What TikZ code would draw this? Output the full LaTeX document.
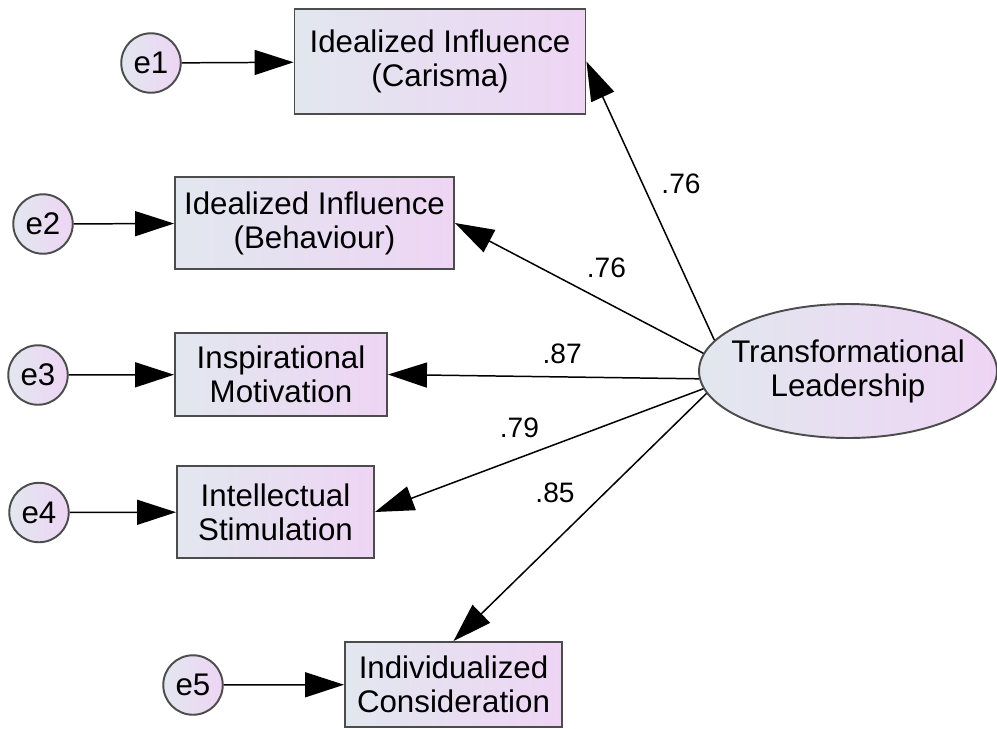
\documentclass[tikz,border=0pt]{standalone}
\usepackage{fontspec}
\setmainfont{Liberation Sans}
\usetikzlibrary{arrows.meta,shapes.geometric}

\definecolor{gradL}{HTML}{E2E7EF}
\definecolor{gradR}{HTML}{EED5F4}
\tikzset{
  grad/.style={left color=gradL, right color=gradR, draw=black!70, line width=1.1pt},
  obsbox/.style={grad, rectangle, align=center, inner sep=0pt},
  errnode/.style={grad, circle, minimum size=1.19cm, inner sep=0pt},
  latent/.style={grad, ellipse, align=center, minimum width=5.96cm, minimum height=2.68cm, inner xsep=-0.3cm, inner ysep=0pt},
  loading/.style={fill=none, draw=none, inner sep=0pt, font=\fontsize{16}{18}\selectfont}
}

\begin{document}
\begin{tikzpicture}[x=0.02cm,y=-0.02cm,->,>={Triangle[length=0.78cm,width=0.5cm]},line width=0.85pt,
  font=\fontsize{17.8}{19.4}\selectfont]
\useasboundingbox (0,0) rectangle (997,728);
\begin{scope}

\node[obsbox,minimum width=5.82cm,minimum height=2.1cm] (b1) at (440,61.5) {Idealized Influence\\(Carisma)};
\node[obsbox,minimum width=5.58cm,minimum height=1.84cm] (b2) at (314.5,223) {Idealized Influence\\(Behaviour)};
\node[obsbox,minimum width=4.24cm,minimum height=1.66cm] (b3) at (281,374.5) {Inspirational\\Motivation};
\node[obsbox,minimum width=3.94cm,minimum height=1.84cm] (b4) at (275.5,512) {Intellectual\\Stimulation};
\node[obsbox,minimum width=4.34cm,minimum height=1.7cm] (b5) at (453.5,684.5) {Individualized\\Consideration};

\node[errnode] (e1) at (151,63) {e1};
\node[errnode] (e2) at (43,224) {e2};
\node[errnode] (e3) at (38,375) {e3};
\node[errnode] (e4) at (39,512.5) {e4};
\node[errnode] (e5) at (193,685) {e5};

\node[latent] (tl) at (848,371) {Transformational\\Leadership};

\draw (e1) -- (b1);
\draw (e2) -- (b2);
\draw (e3) -- (b3);
\draw (e4) -- (b4);
\draw (e5) -- (b5);

\draw (tl.167.5) -- (b1.east) node[loading,pos=0.56,right=0.36cm] {.76};
\draw (tl.173) -- (b2.east) node[loading,pos=0.39,above=0.48cm] {.76};
\draw (tl.183) -- (b3.east) node[loading,pos=0.44,above=0.25cm] {.87};
\draw (tl.187) -- (b4.east) node[loading,pos=0.56,above=0.38cm] {.79};
\draw (tl.189) -- (b5.north) node[loading,pos=0.4,left=0.6cm] {.85};

\end{scope}
\end{tikzpicture}
\end{document}
